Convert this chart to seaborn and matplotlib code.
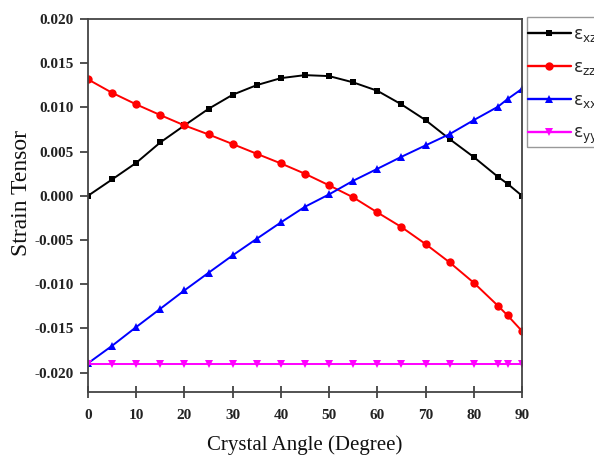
import numpy as np
import pandas as pd
import matplotlib
matplotlib.use("Agg")
import matplotlib.pyplot as plt
from matplotlib.patches import Rectangle
from matplotlib.ticker import MultipleLocator, FormatStrFormatter
import seaborn as sns

# Crystal angle (degrees) and strain tensor components
angle = [0, 5, 10, 15, 20, 25, 30, 35, 40, 45, 50, 55, 60, 65, 70, 75, 80, 85, 87, 90]
eps_xz = [0.0, 0.00185, 0.00373, 0.00604, 0.00796, 0.00984, 0.01143, 0.01252, 0.01331, 0.01365,
          0.01354, 0.01283, 0.01188, 0.01034, 0.00856, 0.00641, 0.00438, 0.00215, 0.00136, 0.0]
eps_zz = [0.01317, 0.01165, 0.01034, 0.00913, 0.00796, 0.00694, 0.00585, 0.00475, 0.00366, 0.00249,
          0.00118, -0.00018, -0.00188, -0.00354, -0.00546, -0.00754, -0.00984, -0.01244, -0.01353, -0.01531]
eps_xx = [-0.01895, -0.01697, -0.01485, -0.01278, -0.0107, -0.00871, -0.00674, -0.00486, -0.00301, -0.00124,
          0.00016, 0.0017, 0.00305, 0.00441, 0.0057, 0.00698, 0.00856, 0.01007, 0.01094, 0.0121]
eps_yy = [-0.019] * len(angle)

labels = [r"ε$_{\mathrm{xz}}$", r"ε$_{\mathrm{zz}}$", r"ε$_{\mathrm{xx}}$", r"ε$_{\mathrm{yy}}$"]
series = [eps_xz, eps_zz, eps_xx, eps_yy]
colors = ["black", "red", "blue", "magenta"]
markers = ["s", "o", "^", "v"]
msizes = [5.0, 6.0, 6.0, 6.0]

df = pd.concat(
    [pd.DataFrame({"angle": angle, "strain": s, "component": lab}) for s, lab in zip(series, labels)],
    ignore_index=True,
)

sns.set_theme(style="white")
plt.rcParams["font.family"] = ["Liberation Serif", "DejaVu Serif"]
plt.rcParams["mathtext.fontset"] = "dejavusans"

W, H = 594, 455
fig = plt.figure(figsize=(W / 100, H / 100), dpi=100)
ax = fig.add_axes([88 / W, 1 - 392 / H, 434 / W, 373 / H])

for lab, col, mk, ms in zip(labels, colors, markers, msizes):
    sns.lineplot(data=df[df["component"] == lab], x="angle", y="strain", ax=ax,
                 color=col, marker=mk, markersize=ms, markeredgewidth=0,
                 linewidth=1.4, label=lab)

ax.set_xlim(0, 90)
ax.set_ylim(-0.0222, 0.020)
ax.xaxis.set_major_locator(MultipleLocator(10))
ax.xaxis.set_minor_locator(MultipleLocator(5))
ax.yaxis.set_major_locator(MultipleLocator(0.005))
ax.yaxis.set_minor_locator(MultipleLocator(0.0025))
ax.yaxis.set_major_formatter(FormatStrFormatter("%.3f"))

ax.tick_params(axis="x", which="major", direction="inout", length=9, width=1.2, color="#333333")
ax.tick_params(axis="x", which="minor", direction="inout", length=6, width=1.0, color="#333333")
ax.tick_params(axis="y", which="major", direction="out", length=6, width=1.2, color="#333333")
ax.tick_params(axis="y", which="minor", direction="out", length=4, width=1.0, color="#333333")
ax.tick_params(axis="both", labelsize=11, bottom=True, left=True)
ax.tick_params(axis="x", pad=8)
ax.tick_params(axis="y", pad=4)
for t in ax.get_xticklabels() + ax.get_yticklabels():
    t.set_fontweight("bold")
    t.set_color("#222222")

for sp in ax.spines.values():
    sp.set_color("#444444")
    sp.set_linewidth(1.3)

ax.set_xlabel("Crystal Angle (Degree)", fontsize=15, color="#111111", labelpad=9)
ax.set_ylabel("Strain Tensor", fontsize=17, color="#111111")
ax.yaxis.set_label_coords(-0.129, 0.534)

# legend box sits to the right of the axes and runs off the figure edge
fig.add_artist(Rectangle((527 / W, 1 - 147 / H), 100 / W, 130 / H, transform=fig.transFigure,
                         facecolor="none", edgecolor="#999999", linewidth=1.0,
                         clip_on=False, zorder=-1))
leg = ax.legend(loc="upper left", bbox_to_anchor=(523 / W, 1 - 19.5 / H),
                bbox_transform=fig.transFigure, frameon=False,
                handlelength=2.45, handletextpad=0.15, labelspacing=0.82, borderpad=0.3,
                borderaxespad=0, prop={"family": "DejaVu Sans", "size": 12.5})
for line in leg.get_lines():
    line.set_linewidth(1.7)

fig.savefig("out.png", dpi=100)
